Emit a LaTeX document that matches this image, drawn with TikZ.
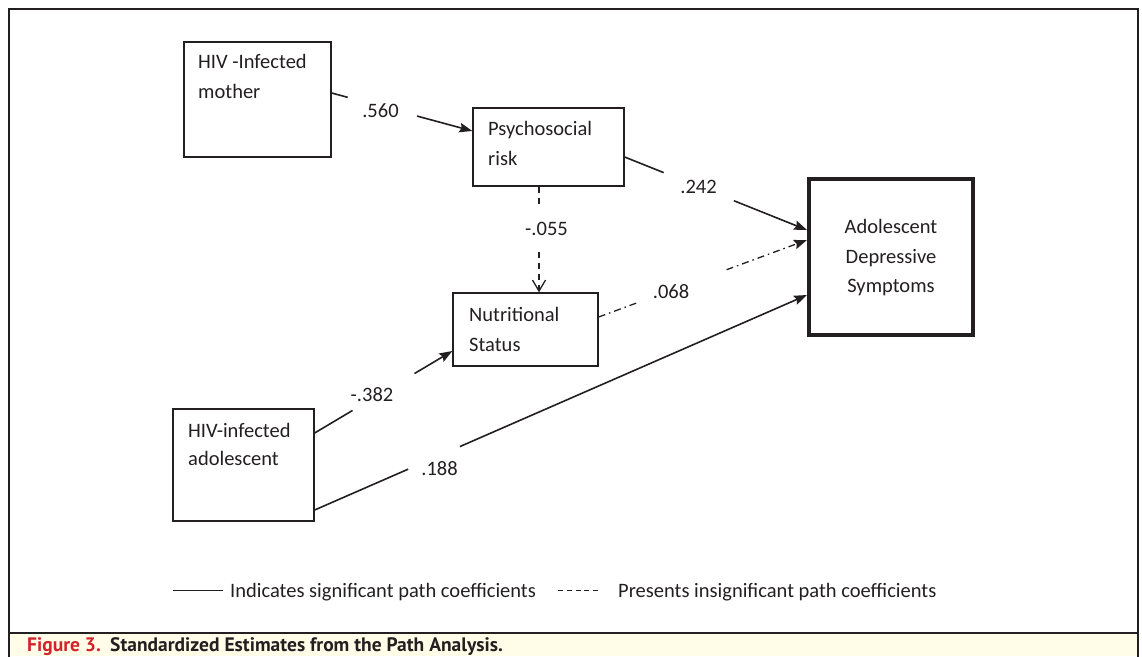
\documentclass[tikz,border=0pt]{standalone}
\usepackage{fontspec}
\setmainfont{Carlito}
\newfontfamily\capfont{PT Sans}
\usetikzlibrary{arrows.meta,calc}
\definecolor{ink}{HTML}{231F20}
\definecolor{capred}{HTML}{D2232A}
\definecolor{capbg}{HTML}{FFFCE8}
\begin{document}
\begin{tikzpicture}[x=1pt,y=-1pt,
  box/.style={draw=ink, line width=1.3pt, inner sep=0pt},
  txt/.style={font=\fontsize{20.5}{30}\selectfont, text=ink, inner sep=0pt, anchor=base west},
  lab/.style={font=\fontsize{20.5}{30}\selectfont, text=ink, inner sep=0pt, anchor=base},
  conn/.style={draw=ink, line width=1.6pt},
  tip/.style={-{Stealth[length=13pt,width=9.5pt,inset=2pt]}},
  vtip/.style={-{Straight Barb[length=11pt,width=13pt]}},
  capsty/.style={font=\capfont\bfseries\fontsize{19.5}{22}\selectfont, inner sep=0pt, anchor=base west},
]
\useasboundingbox (0,0) rectangle (1142,656);
% frame and caption band
\fill[capbg] (9,633) rectangle (1138,656);
\draw[ink, line width=1.3pt] (9,660) -- (9,9) -- (1138,9) -- (1138,660);
\draw[ink, line width=1.3pt] (9,633) -- (1138,633);

% boxes
\node[box, minimum width=147pt, minimum height=115pt] (m) at (257.5,99.5) {};
\node[box, minimum width=151pt, minimum height=78pt] (p) at (548.5,147) {};
\node[box, minimum width=145pt, minimum height=73pt] (n) at (525.5,329.5) {};
\node[box, minimum width=141pt, minimum height=112pt] (a) at (243.5,465) {};
\node[box, line width=4.3pt, minimum width=163.7pt, minimum height=155.7pt] (d) at (891,257) {};

% box texts
\node[txt] (m1) at (198,68) {HIV -Infected};
\node[txt] (m2) at (198,98) {mother};
\node[txt] (p1) at (488,135) {Psychosocial};
\node[txt] (p2) at (488,165) {risk};
\node[txt] (n1) at (469,321) {Nutritional};
\node[txt] (n2) at (469,351) {Status};
\node[txt] (a1) at (188,437) {HIV-infected};
\node[txt] (a2) at (188,465) {adolescent};
\node[lab] (d1) at (891,233) {Adolescent};
\node[lab] (d2) at (891,263) {Depressive};
\node[lab] (d3) at (891,292) {Symptoms};

% connector 1: mother -> psychosocial
\coordinate (e1s) at ([yshift=6.5pt]m.east);
\coordinate (e1t) at ([yshift=16pt]p.west);
\draw[conn] (e1s) -- ($(e1s)!0.114!(e1t)$);
\draw[conn,tip] ($(e1s)!0.607!(e1t)$) -- (e1t);
\node[lab] (l1) at (380.5,117) {.560};

% connector 2: psychosocial -> depressive
\coordinate (e2s) at ([yshift=-10pt]p.east);
\coordinate (e2t) at ([yshift=27pt]d.west);
\draw[conn] (e2s) -- ($(e2s)!0.214!(e2t)$);
\draw[conn,tip] ($(e2s)!0.599!(e2t)$) -- (e2t);
\node[lab] (l2) at (698.5,193) {.242};

% connector 3: psychosocial -> nutritional (dashed)
\coordinate (e3s) at ([xshift=-9.5pt]p.south);
\coordinate (e3t) at ([xshift=13.5pt]n.north);
\draw[conn, line width=1.3pt, dash pattern=on 6pt off 5pt] (e3s) -- ($(e3s)!0.18!(e3t)$);
\draw[conn, line width=1.3pt, dash pattern=on 6pt off 5pt, vtip] ($(e3s)!0.62!(e3t)$) -- (e3t);
\node[lab] (l3) at (546.5,235) {-.055};

% connector 4: nutritional -> depressive (dash-dot)
\coordinate (e4s) at ([yshift=12.5pt]n.east);
\coordinate (e4t) at ([yshift=17pt]d.west);
\draw[conn, line width=1.3pt, dash pattern=on 7pt off 4pt on 1.5pt off 4pt] (e4s) -- ($(e4s)!0.19!(e4t)$);
\draw[conn, line width=1.3pt, dash pattern=on 7pt off 4pt on 1.5pt off 4pt, tip] ($(e4s)!0.614!(e4t)$) -- (e4t);
\node[lab] (l4) at (671,298) {.068};

% connector 5: adolescent -> nutritional
\coordinate (e5s) at ([yshift=32pt]a.east);
\coordinate (e5t) at ([yshift=-21.5pt]n.west);
\draw[conn] (e5s) -- ($(e5s)!0.275!(e5t)$);
\draw[conn,tip] ($(e5s)!0.725!(e5t)$) -- (e5t);
\node[lab] (l5) at (372,401) {-.382};

% connector 6: adolescent -> depressive
\coordinate (e6s) at ([yshift=-45pt]a.east);
\coordinate (e6t) at ([yshift=-38pt]d.west);
\draw[conn] (e6s) -- ($(e6s)!0.19!(e6t)$);
\draw[conn,tip] ($(e6s)!0.295!(e6t)$) -- (e6t);
\node[lab] (l6) at (439.5,475) {.188};

% legend
\draw[ink, line width=1.2pt] (173,590.5) -- (223,590.5);
\node[txt] (lg1) at (230,597) {Indicates significant path coefficients};
\draw[ink, line width=1.2pt, dash pattern=on 5pt off 3.8pt] (558,590.5) -- (598,590.5);
\node[txt] (lg2) at (618,597) {Presents insignificant path coefficients};

% caption
\node[capsty, text=capred] (c1) at (27,651) {Figure 3.};
\node[capsty, text=ink] (c2) at (110,651) {Standardized Estimates from the Path Analysis.};
\end{tikzpicture}
\end{document}
